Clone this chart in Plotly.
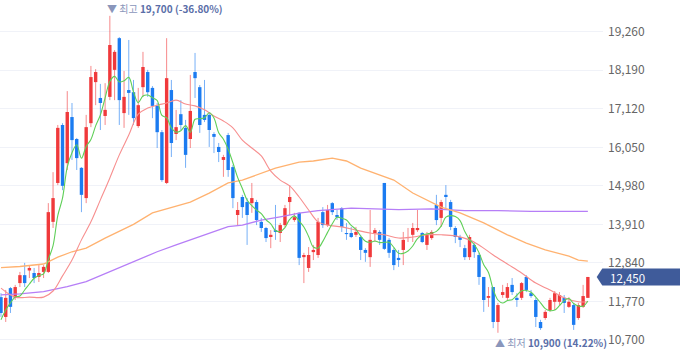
import plotly.graph_objects as go
import numpy as np

# ---- candle data (KRW) ----
opens = [11890,11340,12140,11870,12280,12500,12630,12560,12450,12590,
         12590,13980,15060,16670,15610,16890,16280,15480,14640,16720,
         17860,17420,16920,17450,18200,19080,17000,17640,17580,16640,
         17720,18140,17700,17200,16470,15060,17640,16420,16970,16590,
         16280,18140,17720,16950,16950,16420,16060,15700,16390,15500,
         14170,14670,14530,14500,14530,13980,13810,13560,13750,13670,
         13890,14530,14030,14230,13000,12700,13140,13060,14250,13890,
         14500,14170,14360,13670,13670,13620,13560,13200,13000,13670,
         13700,15060,13480,13200,12980,13200,13530,13620,13750,13670,
         13340,13530,14450,14090,14730,14530,13810,13560,13250,13000,
         13340,13060,12450,11870,12170,11200,11950,11870,12230,11870,
         11870,12450,12000,11810,11200,11310,11530,11760,11760,11870,
         11620,11670,11310,11620,11870]
highs = [12000,12090,12170,12230,12590,12840,12780,12700,12780,12780,
         14500,15360,16670,16720,17610,17280,16310,15500,16950,18310,
         18220,17810,17830,19700,18750,19110,18170,19030,17920,17700,
         18700,18200,17750,17280,16530,19080,17920,17090,17360,16810,
         18060,18670,17780,17920,17000,16470,16170,15840,16450,15560,
         14530,14730,14640,15060,14590,14090,13840,13750,14450,13950,
         14450,15000,14230,14250,13120,13280,13340,14090,14390,14450,
         14530,14310,14390,13950,13840,13840,13620,13250,14310,13810,
         13750,15060,13530,13250,13200,13700,13810,13950,14310,13700,
         13700,13750,14730,14590,15000,14590,13860,13620,13340,13620,
         13390,13120,12450,12170,12170,11730,12230,12280,12420,12000,
         12310,12500,12090,11870,11260,11530,11870,12060,12030,11950,
         11890,11730,11730,12230,12450]
lows = [11340,11200,11450,11810,12170,12170,12420,12280,12310,12420,
        12560,13810,15000,14860,15420,15700,15420,14250,14500,16610,
        17220,16530,16670,17360,17360,16670,16590,16950,16670,16590,
        17450,17450,16860,16030,15090,15030,15780,16250,16530,15480,
        16030,17420,16450,16750,16060,15890,15640,15230,15230,14360,
        13890,14090,13340,14230,13890,13700,13420,13250,13480,13420,
        13840,14170,13980,12780,12280,12590,12920,12980,13810,13840,
        14170,14030,13700,13480,13530,13560,12920,12870,12730,13420,
        13340,13200,12980,12640,12730,12780,13420,13420,13700,13390,
        13200,13480,13890,13840,14360,13750,13390,13280,12920,12920,
        12980,12230,11480,11620,11030,10900,11870,11810,11950,11620,
        11810,12030,11870,11060,10980,11260,11480,11530,11670,11450,
        11590,10980,11260,11590,11870]
closes = [11450,11870,11620,12170,12500,12280,12700,12420,12560,12730,
          14250,14640,16590,14980,17030,16250,15750,14730,16610,18000,
          18140,17280,17090,18890,18700,17360,17450,17560,16860,17220,
          18280,17580,17200,16470,15140,17970,16170,16610,16670,15840,
          17060,17970,16670,16810,16530,16340,15920,15780,15420,14640,
          14310,14390,14170,14640,14030,13810,13530,13620,13700,13890,
          14360,14670,14110,12980,13060,13060,13200,13980,13890,14310,
          14250,14110,13840,13640,13560,13700,13200,13120,13480,13750,
          13480,13230,13120,12780,12920,13480,13560,13810,13810,13420,
          13620,13700,14030,14530,14670,13840,13560,13480,13000,13560,
          13140,12450,11810,11920,11200,11670,12030,12170,12030,11810,
          12280,12090,11920,11340,11030,11480,11810,12000,11950,11730,
          11760,11120,11670,11920,12450]

# ---- moving averages (sample index, value) ----
ma5_head = [11260, 11530, 11730, 11890]          # first 4 days of the 5-day MA
ma20_idx = [0,3,6,9,11,13,15,17,19,21,23,25,27,29,31,33,35,37,39,41,43,45,47,49,51,
            53,55,57,59,61,63,65,67,69,72,75,78,81,84,87,90,93,96,99,101,104,107,110,
            113,116,119,122,124]
ma20_val = [12140,11890,11890,11890,12060,12480,12920,13480,13980,14590,15200,15840,
            16390,16970,17140,17220,17280,17360,17250,17200,17090,16920,16780,16590,
            16250,16030,15810,15390,15140,14980,14670,14310,13980,13890,13840,13750,
            13670,13620,13530,13560,13620,13620,13590,13480,13340,13060,12810,12560,
            12280,12090,11870,11760,11760]
ma60_idx = [0,4,9,12,15,18,22,28,32,36,40,44,48,51,54,58,63,66,70,73,76,80,83,87,91,
            93,97,102,107,111,115,120,122,124]
ma60_val = [12710,12740,12810,13000,13150,13250,13530,13910,14230,14390,14530,14780,
            15060,15140,15280,15470,15640,15670,15750,15670,15470,15280,15140,14780,
            14530,14390,14230,13950,13620,13390,13200,13030,12920,12890]
ma120_idx = [0,4,9,14,18,23,28,33,37,41,45,48,51,55,59,63,67,72,74,79,84,91,98,105,112,124]
ma120_val = [11950,11980,12040,12180,12320,12600,12870,13150,13340,13530,13710,13850,
             13890,14030,14120,14220,14290,14340,14360,14340,14320,14340,14290,14290,
             14270,14270]

ytick_vals = [10700, 11770, 12840, 13910, 14980, 16050, 17120, 18190, 19260]

# ---- derived ----
o = np.array(opens); h = np.array(highs); l = np.array(lows); c = np.array(closes)
n = len(c)
idx = np.arange(n)
up = c >= o

RED = "#f03a3c"; BLUE = "#1c7cf1"
RED_W = "rgba(240,58,60,0.6)"; BLUE_W = "rgba(28,124,241,0.6)"

ma5 = list(ma5_head) + [float(np.mean(c[i-4:i+1])) for i in range(4, n)]

fig = go.Figure()

def wick_xy(mask):
    xs, ys = [], []
    for i in idx[mask]:
        xs += [i, i, None]
        ys += [l[i], h[i], None]
    return xs, ys

for mask, col in ((up, RED_W), (~up, BLUE_W)):
    xs, ys = wick_xy(mask)
    fig.add_trace(go.Scatter(x=xs, y=ys, mode="lines", line=dict(color=col, width=1),
                             hoverinfo="skip", showlegend=False))

body_base = np.minimum(o, c)
body_h = np.maximum(np.abs(c - o), 28)
fig.add_trace(go.Bar(x=idx, y=body_h, base=body_base, width=0.72,
                     marker=dict(color=[RED if u else BLUE for u in up], line=dict(width=0)),
                     hoverinfo="skip", showlegend=False))

fig.add_trace(go.Scatter(x=ma120_idx, y=ma120_val, mode="lines",
                         line=dict(color="#b67ef7", width=1.3), hoverinfo="skip", showlegend=False))
fig.add_trace(go.Scatter(x=ma60_idx, y=ma60_val, mode="lines",
                         line=dict(color="#ffb270", width=1.3), hoverinfo="skip", showlegend=False))
fig.add_trace(go.Scatter(x=ma20_idx, y=ma20_val, mode="lines", line_shape="spline",
                         line=dict(color="#f78f8f", width=1.1), hoverinfo="skip", showlegend=False))
fig.add_trace(go.Scatter(x=idx, y=ma5, mode="lines", line_shape="spline",
                         line=dict(color="#5fcf58", width=1.1), hoverinfo="skip", showlegend=False))

last = closes[-1]
hi_i = int(np.argmax(h)); lo_i = int(np.argmin(l))
hi_v = int(h[hi_i]); lo_v = int(l[lo_i])
pct_hi = (last / hi_v - 1) * 100
pct_lo = (last / lo_v - 1) * 100

LBL = "#8a96bb"; VAL = "#5a6ea8"
fig.add_annotation(x=hi_i, y=hi_v, xref="x", yref="y", xanchor="left", yanchor="middle",
                   xshift=-5, yshift=7, showarrow=False,
                   text=f"<span style='color:{LBL}'>▼ 최고</span> <b>{hi_v:,} ({pct_hi:.2f}%)</b>",
                   font=dict(size=10, color=VAL, family="Noto Sans CJK KR"))
fig.add_annotation(x=lo_i, y=lo_v, xref="x", yref="y", xanchor="left", yanchor="middle",
                   xshift=-5, yshift=-10, showarrow=False,
                   text=f"<span style='color:{LBL}'>▲ 최저</span> <b>{lo_v:,} ({pct_lo:.2f}%)</b>",
                   font=dict(size=10, color=VAL, family="Noto Sans CJK KR"))

# current price tag
PLOT_W = 603.0
hh = 8.5 * 27.76
xl = 602.3 / PLOT_W; xt = 596.7 / PLOT_W; xr = 1.13
path = (f"M {xt},{last} L {xl},{last+hh} L {xr},{last+hh} "
        f"L {xr},{last-hh} L {xl},{last-hh} Z")
fig.add_shape(type="path", path=path, xref="paper", yref="y",
              fillcolor="#3f5b9a", line=dict(width=0), layer="above")
fig.add_annotation(x=607.5 / PLOT_W, y=last, xref="paper", yref="y", xanchor="left",
                   yanchor="middle", yshift=-1, showarrow=False, text=f"{last:,}",
                   font=dict(size=11.5, color="white", family="Noto Sans CJK KR"))

fig.update_layout(
    width=680, height=358,
    margin=dict(l=0, r=77, t=0, b=0),
    paper_bgcolor="white", plot_bgcolor="white",
    showlegend=False, hovermode=False, barmode="overlay",
    xaxis=dict(visible=False, range=[-0.21, 127.2], fixedrange=True),
    yaxis=dict(side="right", range=[10200, 20140], tickvals=ytick_vals,
               ticktext=[f"{v:,}" for v in ytick_vals], showgrid=True,
               gridcolor="#f0f2f8", gridwidth=1, zeroline=False, showline=False,
               ticks="", tickfont=dict(size=12, color="#666666", family="Noto Sans CJK KR"),
               ticklabelstandoff=4, fixedrange=True),
)

fig.write_html("out.html", config={"displayModeBar": False, "staticPlot": True},
               post_script="document.body.style.margin='0px';document.body.style.overflow='hidden';")
